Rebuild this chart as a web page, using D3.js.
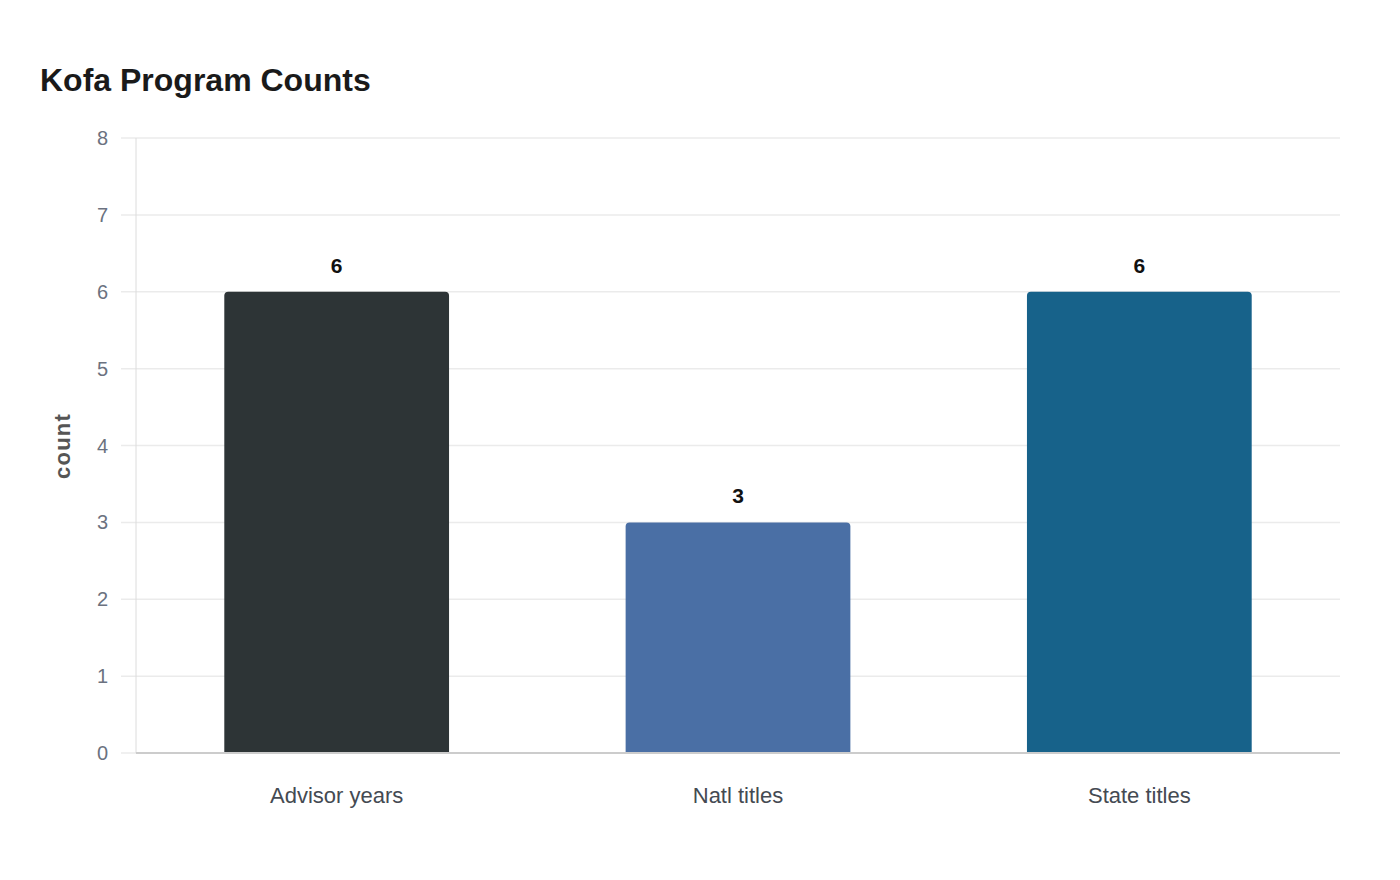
<!DOCTYPE html>
<html><head><meta charset="utf-8">
<script src="https://cdn.jsdelivr.net/npm/d3@7"></script>
<style>body{margin:0;background:#fff;} svg text{font-family:"Liberation Sans","Arimo",Arial,Helvetica,sans-serif;}</style>
</head><body><svg id="c" width="1400" height="880"></svg>
<script>
const categories = ["Advisor years", "Natl titles", "State titles"];
const values = [6, 3, 6];
const colors = ["#2d3436", "#4a6fa5", "#17628a"];
const yTicks = [0,1,2,3,4,5,6,7,8];
const title = "Kofa Program Counts";
const yLabel = "count";

const svg = d3.select("#c");
const m = {left:136, right:60, top:138, bottom:127};
const W = 1400, H = 880;
const x = d3.scaleBand().domain(categories).range([m.left, W-m.right]).paddingInner(0.44).paddingOuter(0.22);
const y = d3.scaleLinear().domain([0,8]).range([H-m.bottom, m.top]);

svg.append("text").attr("x",40).attr("y",91).attr("font-size",32).attr("font-weight","bold").attr("fill","#1a1a1a").text(title);

// grid
svg.append("g").selectAll("line").data(yTicks).join("line")
  .attr("x1",121).attr("x2",W-m.right).attr("y1",d=>y(d)).attr("y2",d=>y(d))
  .attr("stroke","#ebebeb").attr("stroke-width",1.5);
// left axis line
svg.append("line").attr("x1",m.left).attr("x2",m.left).attr("y1",m.top).attr("y2",y(0))
  .attr("stroke","#dcdcdc").attr("stroke-width",1);
// tick labels
svg.append("g").selectAll("text").data(yTicks).join("text")
  .attr("x",108).attr("y",d=>y(d)).attr("dy","0.35em").attr("text-anchor","end")
  .attr("font-size",20).attr("fill","#6b7280").text(d=>d);

// bars
const r = 4;
svg.append("g").selectAll("path").data(categories).join("path")
  .attr("d",(c,i)=>{const x0=x(c), w=x.bandwidth(), y0=y(values[i]), y1=y(0);
    return `M${x0},${y1}V${y0+r}Q${x0},${y0} ${x0+r},${y0}H${x0+w-r}Q${x0+w},${y0} ${x0+w},${y0+r}V${y1}Z`;})
  .attr("fill",(c,i)=>colors[i]);

// bottom axis
svg.append("line").attr("x1",m.left).attr("x2",W-m.right).attr("y1",y(0)).attr("y2",y(0))
  .attr("stroke","#cccccc").attr("stroke-width",2);

// value labels
svg.append("g").selectAll("text").data(categories).join("text")
  .attr("x",c=>x(c)+x.bandwidth()/2).attr("y",(c,i)=>y(values[i])-19)
  .attr("text-anchor","middle").attr("font-size",21).attr("font-weight","bold").attr("fill","#111")
  .text((c,i)=>values[i]);

// category labels
svg.append("g").selectAll("text").data(categories).join("text")
  .attr("x",c=>x(c)+x.bandwidth()/2).attr("y",803)
  .attr("text-anchor","middle").attr("font-size",22).attr("fill","#444a52").text(c=>c);

// y label
svg.append("text").attr("transform","translate(70,446) rotate(-90)")
  .attr("text-anchor","middle").attr("font-size",22).attr("letter-spacing","1.2px").attr("font-weight","bold").attr("fill","#555").text(yLabel);
</script></body></html>
